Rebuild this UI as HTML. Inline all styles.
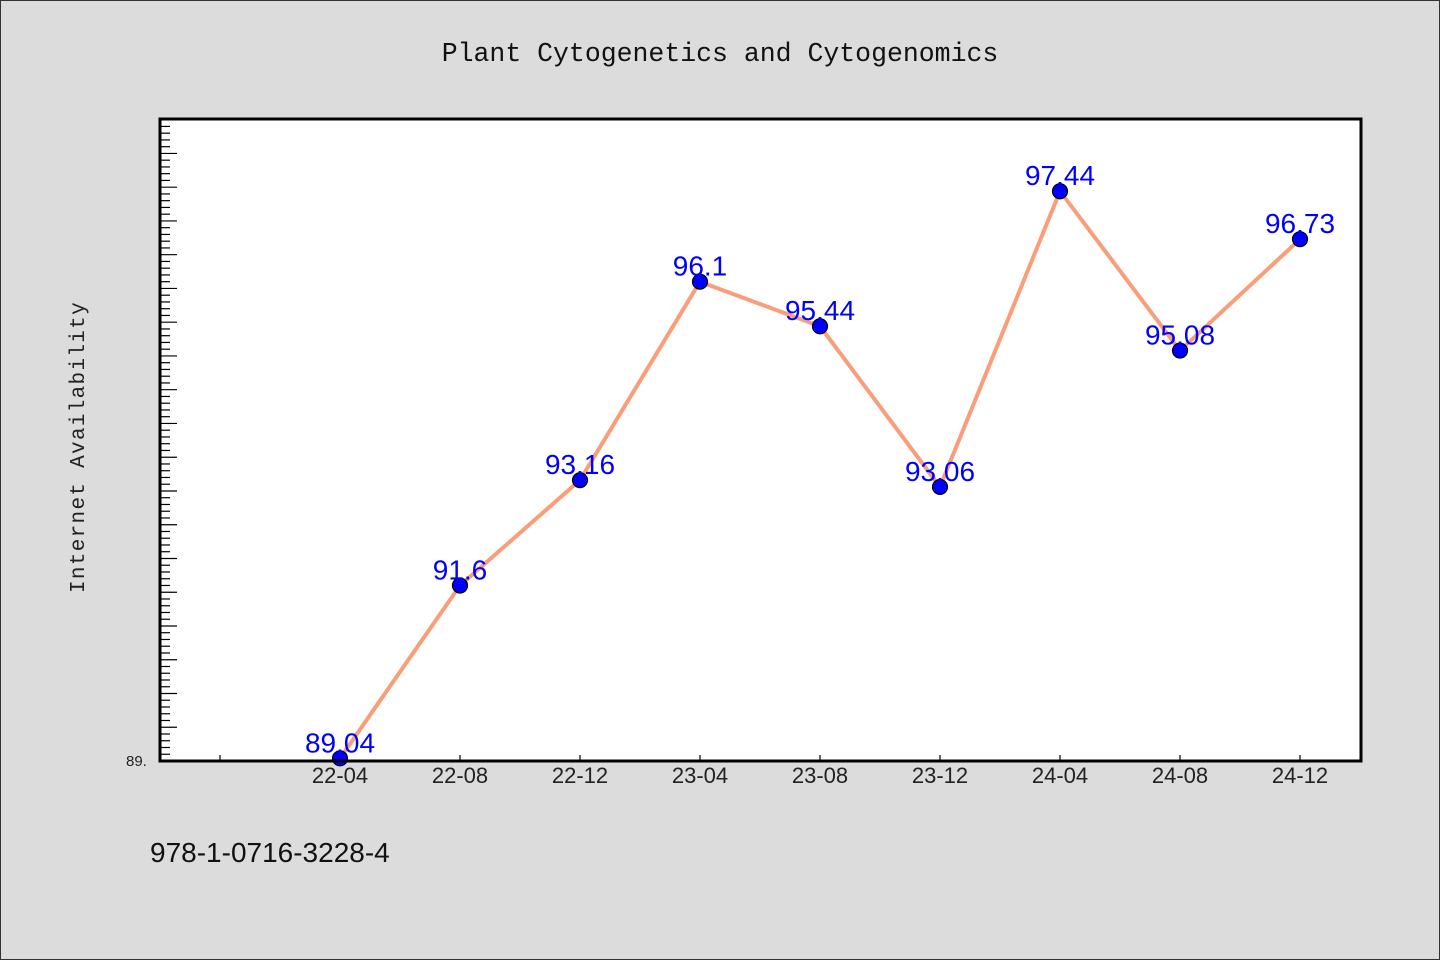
<!DOCTYPE html>
<html><head><meta charset="utf-8"><style>
body{margin:0;background:#dcdcdc;}
svg{display:block;}
</style></head><body>
<svg width="1440" height="960" viewBox="0 0 1440 960">
<rect x="0.5" y="0.5" width="1439" height="959" fill="#dcdcdc" stroke="#333"/>
<text x="720" y="61" text-anchor="middle" font-family="Liberation Mono, monospace" font-size="26.5" fill="#111">Plant Cytogenetics and Cytogenomics</text>
<rect x="160" y="119" width="1201" height="642" fill="#fff"/>
<g id="yt"></g>
<g id="xt"></g>
<g id="series"></g>
<rect x="160" y="119" width="1201" height="642" fill="none" stroke="#000" stroke-width="3"/>
<text x="126" y="766" font-family="Liberation Sans, sans-serif" font-size="15" fill="#222">89.</text>
<text transform="translate(84,447) rotate(-90)" text-anchor="middle" font-family="Liberation Mono, monospace" font-size="21" letter-spacing="1.3" fill="#222">Internet Availability</text>
<text x="150" y="862" font-family="Liberation Sans, sans-serif" font-size="28" fill="#111">978-1-0716-3228-4</text>
</svg>
<script>
const categories=["22-04","22-08","22-12","23-04","23-08","23-12","24-04","24-08","24-12"];
const values=[89.04,91.6,93.16,96.1,95.44,93.06,97.44,95.08,96.73];
const valueLabels=["89.04","91.6","93.16","96.1","95.44","93.06","97.44","95.08","96.73"];
const yMin=89, yMax=98.51;
const NS="http://www.w3.org/2000/svg";
const L=160,R=1360,T=119,B=761;
const bw=(R-L)/(categories.length+1);
function xs(i){return L+bw*(i+1.5);}
function ys(v){return B-(v-yMin)/(yMax-yMin)*(B-T);}
function mk(t,a,p){const e=document.createElementNS(NS,t);for(const k in a)e.setAttribute(k,a[k]);p.appendChild(e);return e;}
const yt=document.getElementById('yt');
for(let k=1;;k++){const v=yMin+k*0.1;if(v>yMax)break;const y=ys(v);const major=k%5===0;
const t=mk('line',{x1:L,x2:L+(major?17:10),y1:y,y2:y,stroke:'#000','stroke-width':1.2},yt);

}
const xt=document.getElementById('xt');
for(let i=-1;i<categories.length;i++){const x=xs(i);
const t=mk('line',{x1:x,x2:x,y1:B,y2:B-6,stroke:'#000','stroke-width':1.2},xt);


if(i>=0){const l=mk('text',{x:x,y:783,'text-anchor':'middle','font-family':'Liberation Sans, sans-serif','font-size':22,fill:'#222'},xt);l.textContent=categories[i];

}}
const s=document.getElementById('series');
const pl=mk('polyline',{points:values.map((v,i)=>xs(i)+','+ys(v)).join(' '),fill:'none',stroke:'#fa9e7a','stroke-width':4,'stroke-linejoin':'round'},s);


values.forEach((v,i)=>{
const c=mk('circle',{cx:xs(i),cy:ys(v),r:7.5,fill:'#0000ff',stroke:'#000','stroke-width':1.2},s);


const t=mk('text',{x:xs(i),y:ys(v)-6,'text-anchor':'middle','font-family':'Liberation Sans, sans-serif','font-size':28,fill:'#0000ff'},s);
t.textContent=valueLabels[i];


});
</script>
</body></html>
